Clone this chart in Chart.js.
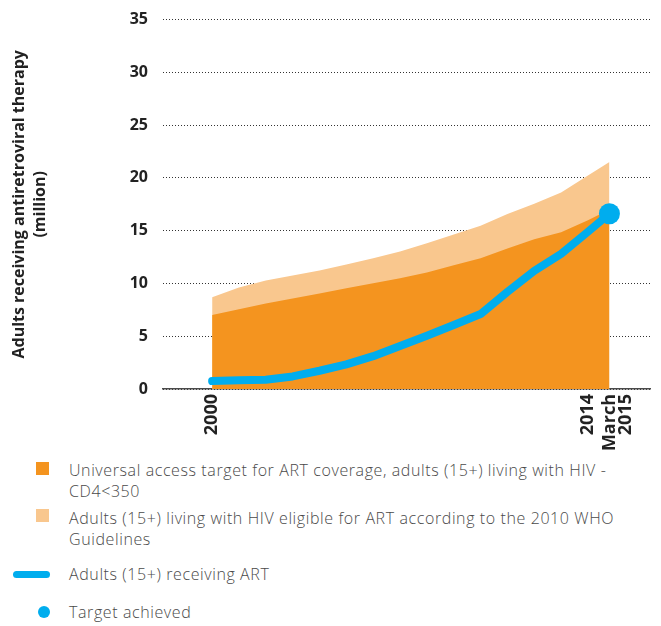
<!DOCTYPE html>
<html>
<head>
<meta charset="utf-8">
<script src="https://cdn.jsdelivr.net/npm/chart.js@4.4.0/dist/chart.umd.min.js"></script>
<style>
body { margin: 0; background: #fff; font-family: "Open Sans", sans-serif; }
#wrap { position: relative; width: 661px; height: 626px; overflow: hidden; }
#box { position: absolute; left: 0; top: -5px; width: 661px; height: 455px; }
.item { position: absolute; left: 69px; width: 560px; font-size: 16px; font-weight: 300; letter-spacing: 0.6px; color: #4a4a4a; line-height: 21px; }
.mk { position: absolute; }
</style>
</head>
<body>
<div id="wrap">
  <div id="box"><canvas id="chart"></canvas></div>
  <div id="legend"></div>
</div>
<script>
// x positions of the points (last one is March 2015)
var xPos = [2000, 2001, 2002, 2003, 2004, 2005, 2006, 2007, 2008, 2009, 2010, 2011, 2012, 2013, 2014, 2014.8];
var xLabels = ['2000', '2001', '2002', '2003', '2004', '2005', '2006', '2007', '2008', '2009', '2010', '2011', '2012', '2013', '2014', ['March', '2015']];
var shownTicks = [2000, 2014, 2014.8];

// million adults
var targetCD4 = [7.0, 7.56, 8.1, 8.58, 9.06, 9.54, 10.01, 10.49, 11.04, 11.72, 12.4, 13.32, 14.19, 14.85, 15.98, 17.0];
var eligible2010 = [8.7, 9.62, 10.28, 10.76, 11.23, 11.8, 12.4, 13.03, 13.8, 14.63, 15.46, 16.58, 17.56, 18.62, 20.22, 21.5];
var receivingArt = [0.75, 0.82, 0.88, 1.19, 1.73, 2.34, 3.11, 4.07, 5.04, 6.07, 7.1, 9.2, 11.2, 12.8, 14.9, 16.6];
var yTicks = [0, 5, 10, 15, 20, 25, 30, 35];

var darkOrange = '#F4941F';
var lightOrange = '#F9C78E';
var blue = '#00ADEE';

function pts(arr) {
	return arr.map(function(v, i) { return {x: xPos[i], y: v}; });
}

var last = xPos.length - 1;

var ctx = document.getElementById('chart').getContext('2d');
var chart = new Chart(ctx, {
	type: 'line',
	data: {
		datasets: [{
			label: 'Target achieved',
			data: [{x: xPos[last], y: receivingArt[last]}],
			showLine: false,
			pointRadius: 10.5,
			pointBorderWidth: 0,
			backgroundColor: blue,
			borderColor: blue
		}, {
			label: 'Adults (15+) receiving ART',
			data: pts(receivingArt),
			borderColor: blue,
			borderWidth: 8,
			borderCapStyle: 'round',
			borderJoinStyle: 'round',
			pointRadius: 0,
			fill: false
		}, {
			label: 'Universal access target for ART coverage, adults (15+) living with HIV - CD4<350',
			data: pts(targetCD4),
			backgroundColor: darkOrange,
			borderWidth: 0,
			pointRadius: 0,
			fill: 'origin'
		}, {
			label: 'Adults (15+) living with HIV eligible for ART according to the 2010 WHO Guidelines',
			data: pts(eligible2010),
			backgroundColor: lightOrange,
			borderWidth: 0,
			pointRadius: 0,
			fill: 'origin'
		}]
	},
	options: {
		responsive: true,
		maintainAspectRatio: false,
		animation: false,
		layout: { padding: { top: 14, right: 10, left: 0, bottom: 0 } },
		plugins: { legend: { display: false }, tooltip: { enabled: false } },
		scales: {
			x: {
				type: 'linear',
				min: 1998.17,
				max: 2016.33,
				z: 1,
				grid: { display: false, drawTicks: false },
				border: { display: true, color: '#4a4a4a', width: 1.5 },
				afterBuildTicks: function(scale) {
					scale.ticks = shownTicks.map(function(v) { return {value: v}; });
				},
				afterFit: function(scale) { scale.height = 61; },
				ticks: {
					autoSkip: false,
					minRotation: 90,
					maxRotation: 90,
					padding: 5,
					color: '#222',
					font: { family: 'Open Sans', weight: 'bold', size: 18, lineHeight: 0.9 },
					callback: function(v) { return xLabels[xPos.indexOf(v)]; }
				}
			},
			y: {
				min: 0,
				max: 35,
				afterBuildTicks: function(scale) {
					scale.ticks = yTicks.map(function(v) { return {value: v}; });
				},
				afterFit: function(scale) { scale.width = 163; },
				grid: { color: '#333', lineWidth: 1, drawTicks: false },
				border: { display: false, dash: [1, 2] },
				ticks: {
					padding: 15,
					color: '#222',
					font: { family: 'Open Sans', weight: 'bold', size: 16 }
				},
				title: {
					display: true,
					text: ['Adults receiving antiretroviral therapy', '(million)'],
					color: '#222',
					padding: { top: 9, bottom: 0 },
					font: { family: 'Open Sans', weight: 'bold', size: 16, lineHeight: 1.3 }
				}
			}
		}
	}
});

// html legend built from the datasets
var legendRows = [
	{ds: 2, top: 460, mk: 'left:36px;top:462px;width:13px;height:13px;'},
	{ds: 3, top: 508, mk: 'left:36px;top:509px;width:13px;height:13px;'},
	{ds: 1, top: 564, mk: 'left:13px;top:571px;width:37px;height:7px;border-radius:4px;'},
	{ds: 0, top: 602, mk: 'left:38px;top:606px;width:12px;height:12px;border-radius:6px;'}
];
var legend = document.getElementById('legend');
legendRows.forEach(function(r) {
	var ds = chart.data.datasets[r.ds];
	var col = ds.backgroundColor || ds.borderColor;
	if (r.ds === 1) col = ds.borderColor;
	var m = document.createElement('div');
	m.className = 'mk';
	m.style.cssText = r.mk + 'background:' + col + ';';
	legend.appendChild(m);
	var t = document.createElement('div');
	t.className = 'item';
	t.style.top = r.top + 'px';
	t.textContent = ds.label;
	legend.appendChild(t);
});
</script>
</body>
</html>
